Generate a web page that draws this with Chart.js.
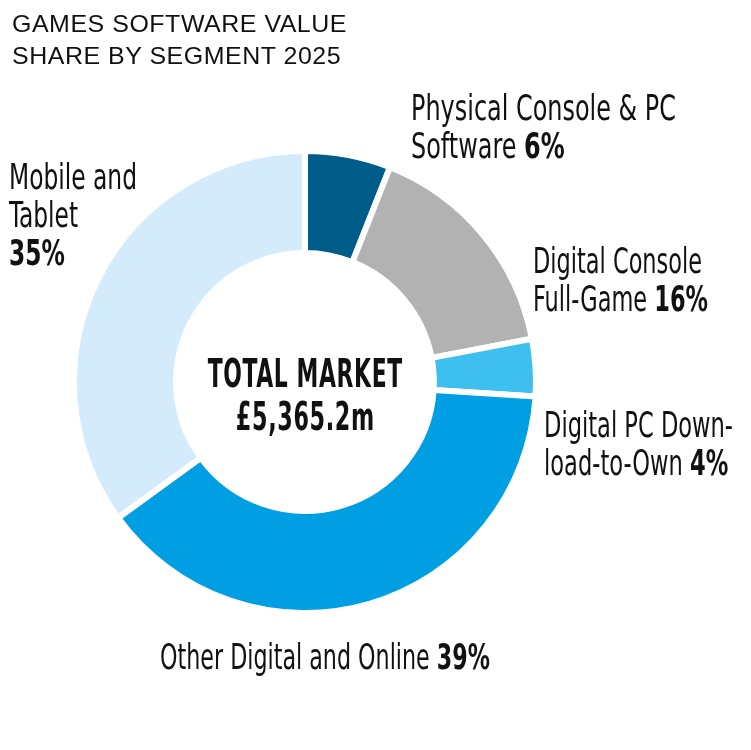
<!DOCTYPE html>
<html>
<head>
<meta charset="utf-8">
<script src="https://cdn.jsdelivr.net/npm/chart.js@4.4.1/dist/chart.umd.min.js"></script>
<style>
  html, body { margin: 0; padding: 0; background: #fff; }
  #wrap { position: relative; width: 751px; height: 750px; overflow: hidden; }
  #chart { position: absolute; left: 0; top: 0; }
  .txt { position: absolute; white-space: nowrap; width: max-content; color: #111; transform-origin: left top; }
  .title { font-family: 'Liberation Sans', Arial, sans-serif; font-size: 24px; line-height: 32px; letter-spacing: 0.5px; }
  .lbl { font-family: 'Liberation Sans Narrow', 'DejaVu Sans Condensed', 'Roboto Condensed', 'Liberation Sans', sans-serif; font-size: 35px; line-height: 38px; }
  .lbl b { font-weight: bold; }
  .ctr { font-family: 'Liberation Sans Narrow', 'DejaVu Sans Condensed', 'Liberation Sans', sans-serif; font-size: 39px; line-height: 43px; font-weight: bold; letter-spacing: 1px; transform-origin: center top; }
</style>
</head>
<body>
<div id="wrap">
  <canvas id="chart" width="751" height="750"></canvas>
</div>
<script>
// data
const titleLines = ['GAMES SOFTWARE VALUE', 'SHARE BY SEGMENT 2025'];
const segments   = ['Physical Console & PC Software', 'Digital Console Full-Game', 'Digital PC Download-to-Own', 'Other Digital and Online', 'Mobile and Tablet'];
const shares     = [6, 16, 4, 39, 35];
const labelLines = [
  ['Physical Console & PC', 'Software'],
  ['Digital Console', 'Full-Game'],
  ['Digital PC Down-', 'load-to-Own'],
  ['Other Digital and Online'],
  ['Mobile and', 'Tablet', '']
];
const colours    = ['#005d8a', '#b2b2b2', '#3dbfef', '#009fe3', '#d4ebfb'];
const centreText = ['TOTAL MARKET', '£5,365.2m'];

// label placement (top-left of first line) and width of the label block
const labelPos    = [[411, 89], [533, 242], [544, 406], [160, 638], [9, 158]];
const labelWidths = [265, 175, 189, 330, 128];

const wrap = document.getElementById('wrap');

function addText(cls, html, x, y) {
  const d = document.createElement('div');
  d.className = 'txt ' + cls;
  d.innerHTML = html;
  d.style.left = x + 'px';
  d.style.top = y + 'px';
  wrap.appendChild(d);
  return d;
}

const titleEl = addText('title', titleLines.join('<br>'), 12, 8);

const labelEls = labelLines.map((lines, i) => {
  const html = lines.map((l, j) => {
    if (j < lines.length - 1) return l;
    return (l ? l + ' ' : '') + '<b>' + shares[i] + '%</b>';
  }).join('<br>');
  return addText('lbl', html, labelPos[i][0], labelPos[i][1]);
});

const ctrEls = centreText.map((t, i) => addText('ctr', t, 0, 352 + i * 43));

function fit() {
  // title: first line ~335px wide
  const tSpan = document.createElement('span');
  tSpan.textContent = titleLines[0];
  tSpan.className = 'txt title';
  tSpan.style.visibility = 'hidden';
  wrap.appendChild(tSpan);
  const ft = 335 / tSpan.getBoundingClientRect().width;
  tSpan.remove();
  titleEl.style.transform = `scaleX(${ft})`;

  // labels: squeeze each block to its width in the original
  labelEls.forEach((el, i) => {
    el.style.transform = '';
    const w = el.getBoundingClientRect().width;
    el.style.transform = `scaleX(${labelWidths[i] / w})`;
  });

  // centre text
  const widths = [195, 139];
  ctrEls.forEach((el, i) => {
    el.style.transform = '';
    const w = el.getBoundingClientRect().width;
    el.style.left = (305.5 - w / 2) + 'px';
    el.style.transform = `scaleX(${widths[i] / w})`;
  });
}
fit();
if (document.fonts) document.fonts.ready.then(fit);

new Chart(document.getElementById('chart'), {
  type: 'doughnut',
  data: {
    labels: segments,
    datasets: [{
      data: shares,
      backgroundColor: colours,
      borderColor: '#ffffff',
      borderWidth: 6,
      hoverOffset: 0
    }]
  },
  options: {
    responsive: false,
    animation: false,
    radius: 231,
    cutout: '55.8%',
    layout: { padding: { left: 0, right: 141, top: 14, bottom: 0 } },
    plugins: {
      legend: { display: false },
      tooltip: { enabled: false }
    }
  }
});
</script>
</body>
</html>
